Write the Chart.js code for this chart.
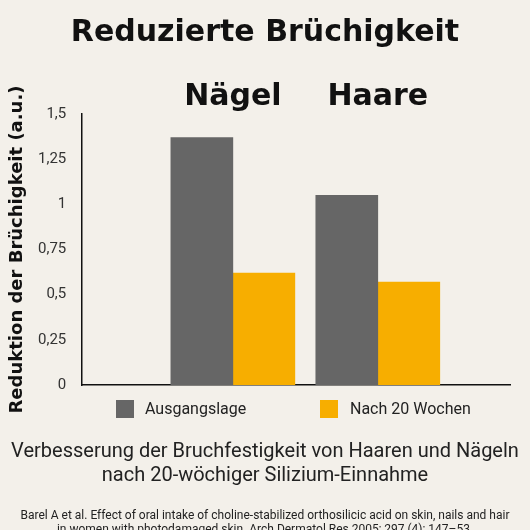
<!DOCTYPE html>
<html><head><meta charset="utf-8">
<script src="https://cdn.jsdelivr.net/npm/chart.js@4"></script>
<style>html,body{margin:0;background:#f3f0ea}#w{width:530px;height:530px}</style>
</head><body><div id="w"><canvas id="c"></canvas></div>
<script>
const categories=["Nägel","Haare"];
const seriesNames=["Ausgangslage","Nach 20 Wochen"];
const baseline=[1.37,1.05];
const after20=[0.62,0.57];
const yTicks=[0,0.25,0.5,0.75,1,1.25,1.5];
const title="Reduzierte Brüchigkeit";
const yTitle="Reduktion der Brüchigkeit (a.u.)";
const caption=["Verbesserung der Bruchfestigkeit von Haaren und Nägeln","nach 20-wöchiger Silizium-Einnahme"];
const cite=["Barel A et al. Effect of oral intake of choline-stabilized orthosilicic acid on skin, nails and hair","in women with photodamaged skin. Arch Dermatol Res 2005; 297 (4): 147–53."];
const colors=["#666666","#f7ae00"];
const COND="'DejaVu Sans',sans-serif";
const LIGHT="'Roboto','Noto Sans',sans-serif";
const pos=categories.map((c,i)=>i+1);
const deco={id:'deco',afterDraw(ch){
 const g=ch.ctx,xs=ch.scales.x,ys=ch.scales.y;g.save();g.fillStyle='#111';g.textAlign='center';g.textBaseline='middle';
 try{g.fontStretch='condensed';}catch(e){}
 g.font="bold 30px "+COND;g.fillText(title,265,33);
 categories.forEach((c,i)=>g.fillText(c,xs.getPixelForValue(pos[i]),97));
 g.save();g.translate(17,(ys.top+ys.bottom)/2);g.rotate(-Math.PI/2);g.font="bold 18px "+COND;g.fillText(yTitle,0,0);g.restore();
 try{g.fontStretch='normal';}catch(e){}
 const lg=[[116,colors[0],seriesNames[0],145],[320,colors[1],seriesNames[1],350]];
 g.font="16px "+LIGHT;g.textAlign='left';
 lg.forEach(l=>{g.fillStyle=l[1];g.fillRect(l[0],400,18,18);g.fillStyle='#222';g.fillText(l[2],l[3],410);});
 g.textAlign='center';g.fillStyle='#222';g.font="20px "+LIGHT;
 g.fillText(caption[0],265,452);g.fillText(caption[1],265,476);
 g.font="12px "+LIGHT;g.fillText(cite[0],265,516);g.fillText(cite[1],265,530);
 g.restore();}};
new Chart(document.getElementById('c'),{type:'bar',
 data:{datasets:[
  {label:seriesNames[0],data:pos.map((p,i)=>({x:p,y:baseline[i]})),backgroundColor:colors[0]},
  {label:seriesNames[1],data:pos.map((p,i)=>({x:p,y:after20[i]})),backgroundColor:colors[1]}]},
 options:{responsive:true,maintainAspectRatio:false,animation:false,
  layout:{padding:{top:114,right:20,bottom:137,left:30}},
  plugins:{legend:{display:false},tooltip:{enabled:false}},
  datasets:{bar:{barThickness:62}},
  scales:{
   x:{type:'linear',min:0.256,max:2.617,ticks:{display:false},grid:{display:false},border:{display:true,color:'#111',width:1.5}},
   y:{min:0,max:1.5,afterBuildTicks:s=>{s.ticks=yTicks.map(v=>({value:v}));},
      ticks:{color:'#333',font:{size:15,family:LIGHT},padding:8,callback:v=>String(v).replace('.',',')},
      grid:{display:false},border:{display:true,color:'#111',width:1.5}}}},
 plugins:[deco]});
</script></body></html>
